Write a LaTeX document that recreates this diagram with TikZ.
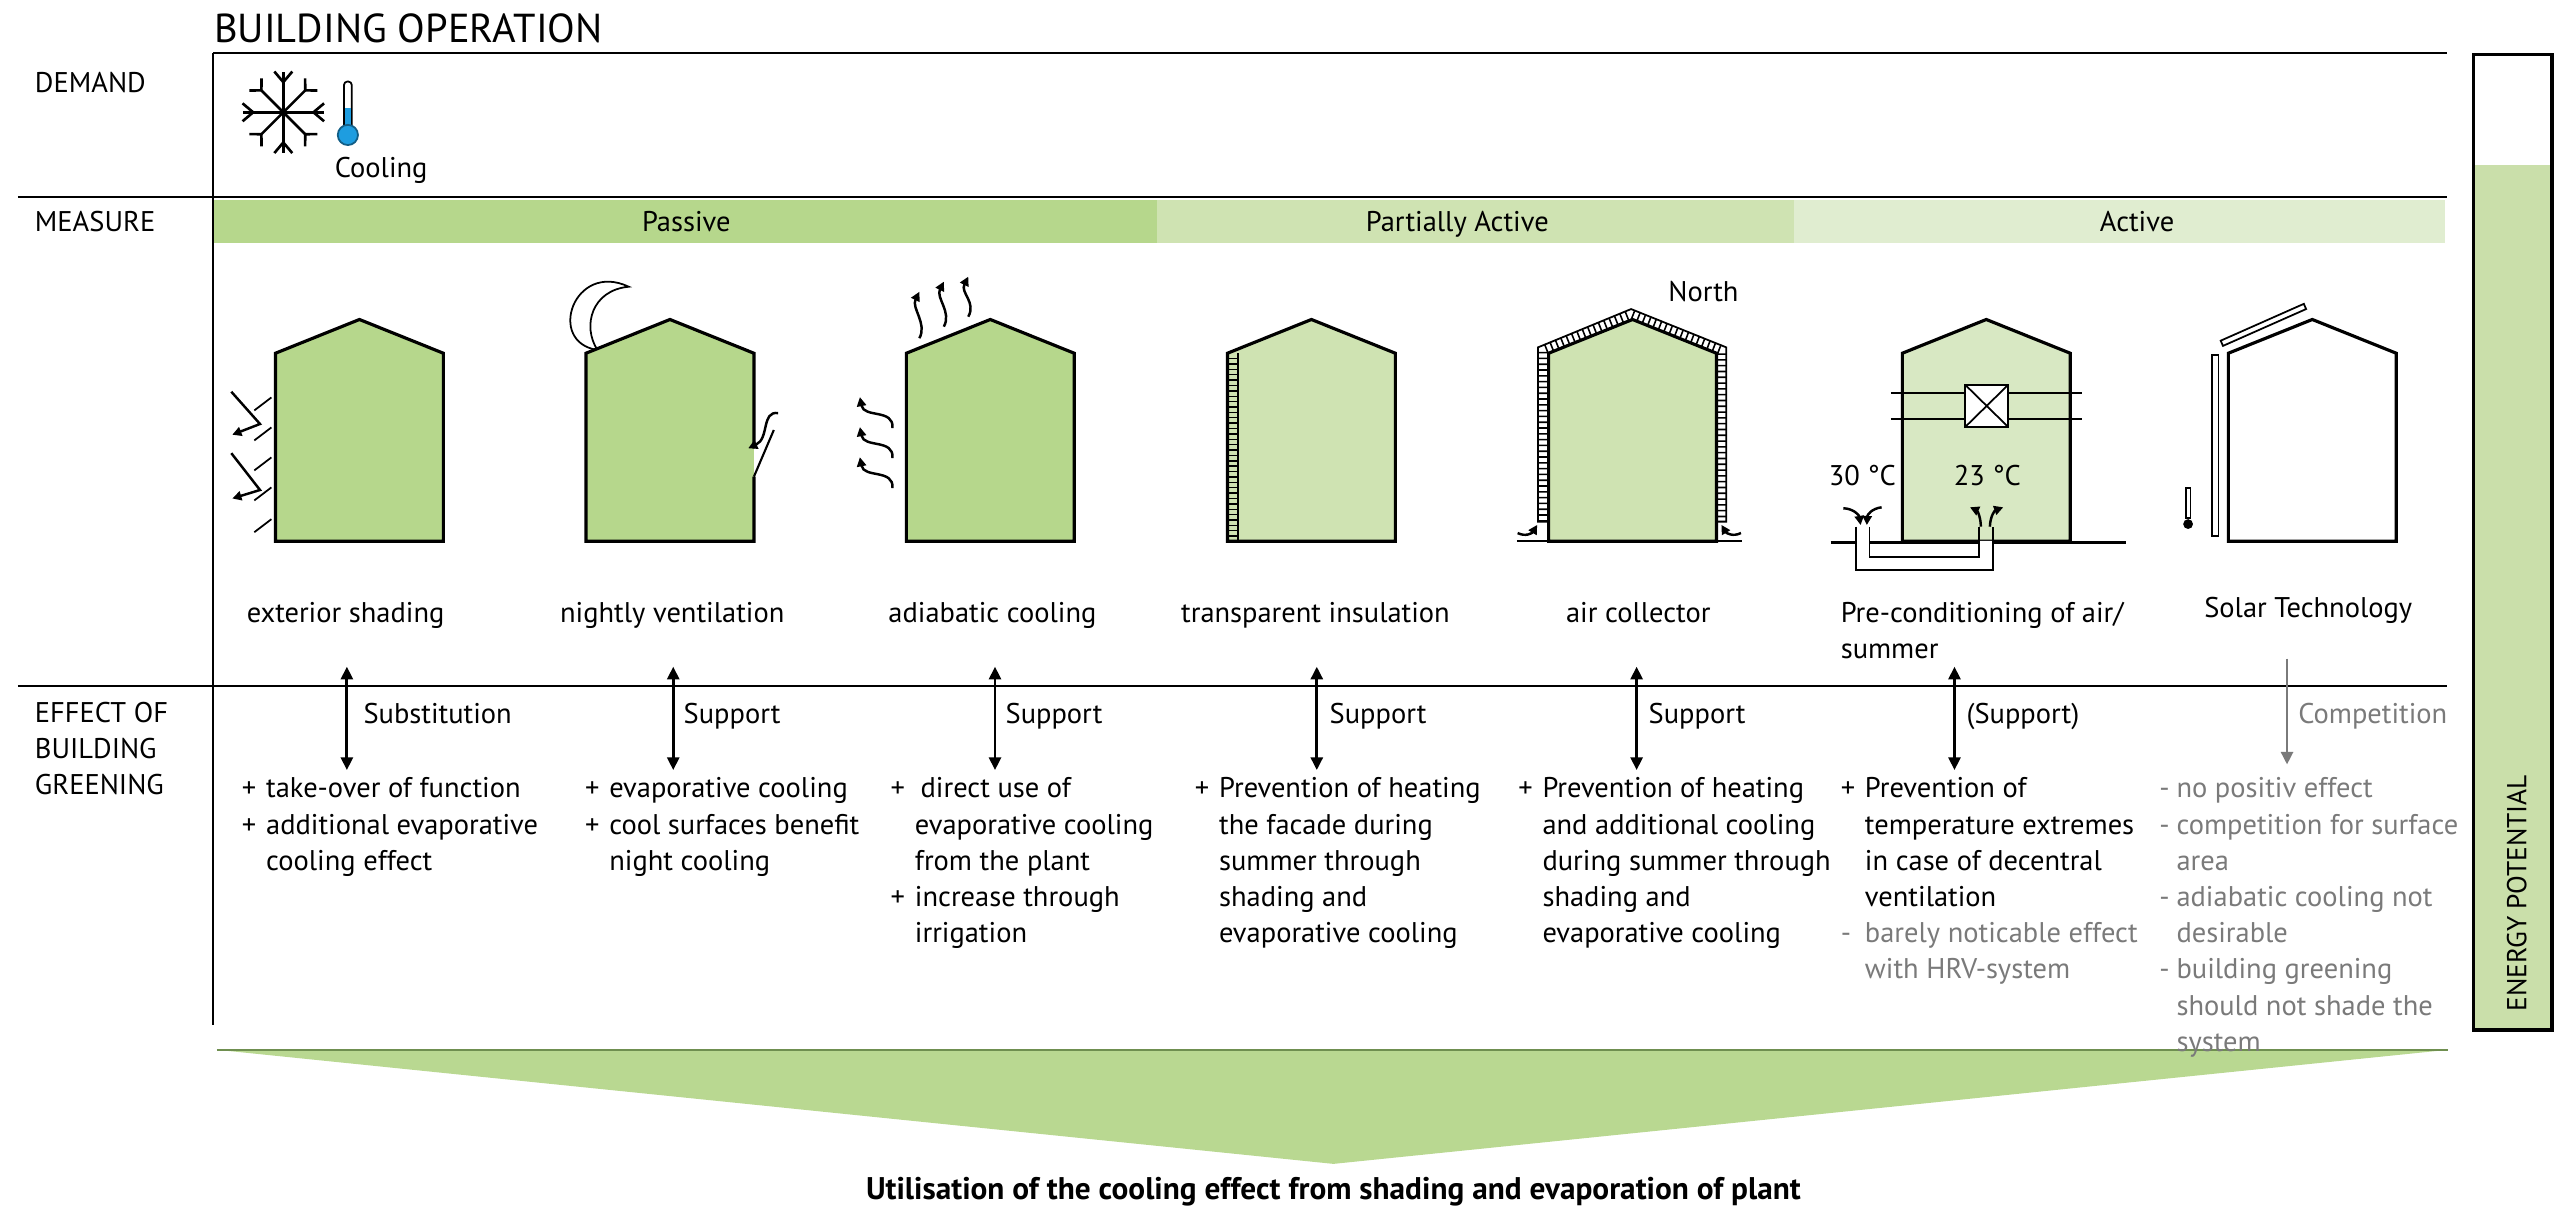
\documentclass[tikz,border=0pt]{standalone}
\usepackage{fontspec}
\setmainfont{PT Sans}
\usetikzlibrary{arrows.meta}
\usetikzlibrary{positioning}

\definecolor{passivegreen}{HTML}{B6D78C}
\definecolor{partgreen}{HTML}{CFE3B2}
\definecolor{condgreen}{HTML}{D8E8C3}
\definecolor{activegreen}{HTML}{E0EDD0}
\definecolor{potgreen}{HTML}{CADFAA}
\definecolor{trigreen}{HTML}{B9D891}
\definecolor{edgegreen}{HTML}{6F8F50}
\definecolor{compgrey}{HTML}{7A7A7A}
\definecolor{thermoblue}{HTML}{1E9DE0}

% list markers with hanging indent
\newcommand{\pl}{\makebox[0.85em][l]{+}}
\newcommand{\mi}{\makebox[0.6em][l]{-}}
\newcommand{\ind}{\hspace*{0.85em}}
\newcommand{\gind}{\hspace*{0.6em}}
% left aligned lines, baseline on the first one
\newcommand{\stack}[1]{\vtop{\halign{##\hfil\cr#1\crcr}}}

% house outline: left x, fill colour
\newcommand{\house}[2]{%
  \filldraw[house, fill=#2] (#1,332) -- (#1,216.7) -- (#1+51.5,196) -- (#1+103,216.7) -- (#1+103,332) -- cycle;}

\begin{document}
\begin{tikzpicture}[x=0.016301cm, y=-0.016301cm,
      txt/.style={inner sep=0, font=\fontsize{8.1}{10.3}\selectfont},
      head/.style={txt, anchor=base west},
      mlabel/.style={txt, anchor=base},
      rule/.style={line width=0.7pt},
      house/.style={line width=0.9pt, line join=miter},
      icon/.style={line width=0.6pt},
      link/.style={{Triangle[width=3.4pt,length=3.6pt]}-{Triangle[width=3.4pt,length=3.6pt]}, line width=0.8pt},
      compete/.style={-{Triangle[width=3.4pt,length=3.6pt]}, line width=0.8pt, compgrey},
      wave/.style={-{Triangle[width=2.6pt,length=2.6pt]}, line width=0.7pt}
      ]
      \useasboundingbox (0,0) rectangle (1568,740);

      % Frame
      \node[txt, anchor=base west, font=\fontsize{11.5}{13}\selectfont] (title) at (131,26) {BUILDING OPERATION};
      \draw[rule] (130.8,32.5) -- (1501,32.5);
      \draw[rule] (11,121) -- (1501,121);
      \draw[rule] (11,421) -- (1501,421);
      \draw[rule] (130.8,32.5) -- (130.8,629);

      \node[head] (demand) at (21,57) {DEMAND};
      \node[head] (measure) at (21,142) {MEASURE};
      \node[head] (effectof) at (21,443) {\stack{EFFECT OF\cr BUILDING\cr GREENING}};

      % Demand: snowflake and thermometer
      \begin{scope}[shift={(173.8,68.9)}, line width=0.75pt]
        \foreach \a in {0,90,180,270} {
          \draw (0,0) -- (\a:25);
          \draw (\a+12.4:25.6) -- (\a:18.5) -- (\a-12.4:25.6);
        }
        \foreach \a in {45,135,225,315} {
          \draw (0,0) -- (\a:19);
          \draw (\a+12.3:24.8) -- (\a:19) -- (\a-12.3:24.8);
        }
      \end{scope}
      \draw[line width=0.5pt, fill=white, rounded corners=1pt] (211,50) rectangle (215.8,79);
      \fill[thermoblue] (211.4,66.5) rectangle (215.4,79);
      \filldraw[draw=thermoblue!60!black, line width=0.5pt, fill=thermoblue] (213.4,82.8) circle (6.2);
      \node[head] (cooling) at (205,109) {Cooling};

      % Measure band
      \fill[passivegreen] (131.5,122.7) rectangle (710,149.3);
      \fill[partgreen] (710,122.7) rectangle (1100.6,149.3);
      \fill[activegreen] (1100.6,122.7) rectangle (1500,149.3);
      \node[mlabel] (passive) at (421,142) {Passive};
      \node[mlabel] (partial) at (894,142) {Partially Active};
      \node[mlabel] (active) at (1311,142) {Active};

      % exterior shading
      \house{169}{passivegreen}
      \foreach \y in {247.8,266.2,284.6,303,322.5}
        \draw[line width=0.5pt] (156,\y+4) -- (166.5,\y-4);
      \draw[wave, line join=miter] (141.9,240.3) -- (159.5,260.1) -- (142.5,266.7);
      \draw[wave, line join=miter] (141.9,278) -- (159.5,300.6) -- (142.5,305.8);

      % nightly ventilation
      \filldraw[line width=0.5pt, fill=white] (385.7,175.9) .. controls (352,160) and (335,210) .. (366.5,214.7)
        .. controls (357,200) and (363,178) .. cycle;
      \fill[passivegreen] (359.5,332) -- (359.5,216.7) -- (411,196) -- (462.5,216.7) -- (462.5,332) -- cycle;
      \draw[house] (462.5,275) -- (462.5,216.7) -- (411,196) -- (359.5,216.7) -- (359.5,332) -- (462.5,332) -- (462.5,292.4);
      \draw[icon] (462.5,292.4) -- (474.7,263.8);
      \draw[wave] (477.3,253.4) .. controls (467,252) and (472,269) .. (459,275);

      % adiabatic cooling
      \house{556}{passivegreen}
      \foreach \x/\yb/\yt in {564/207.5/179, 579/200.4/172.8, 594/194.3/169.7}
        \draw[wave] (\x,\yb) .. controls (\x+5,\yb-9) and (\x-5,\yt+10) .. (\x,\yt);
      \foreach \y in {262.6,281,299.5}
        \draw[wave] (547.5,\y) .. controls (548.5,\y-12) and (530,\y-6) .. (527.5,\y-19);

      % transparent insulation
      \house{753}{partgreen}
      \draw[line width=0.5pt] (759.3,216.7) -- (759.3,332);
      \foreach \y in {220,223.3,...,330}
        \draw[line width=0.4pt] (753,\y) -- (759.3,\y);

      % air collector
      \draw[line width=3pt, white] (946.7,320) -- (946.7,214.9) -- (1000.6,193.4) -- (1055.8,214.9) -- (1055.8,320);
      \draw[line width=3pt, dash pattern=on 0.45pt off 1.2pt] (946.7,320) -- (946.7,214.9) -- (1000.6,193.4) -- (1055.8,214.9) -- (1055.8,320);
      \draw[line width=0.5pt] (950,320) -- (943.5,320) -- (943.5,213.1) -- (1000.6,189.6) -- (1059,213.1) -- (1059,320) -- (1053,320);
      \house{950}{partgreen}
      \draw[rule] (930.5,332) -- (1068.6,332);
      \draw[wave] (931,327) .. controls (936,329.5) and (940,327) .. (943,322);
      \draw[wave] (1068,327) .. controls (1063,329.5) and (1059,327) .. (1056,322);
      \node[mlabel] (north) at (1045,185) {North};

      % pre-conditioning of air
      \house{1167}{condgreen}
      \draw[line width=0.5pt] (1160,241) -- (1277,241) (1160,257) -- (1277,257);
      \filldraw[fill=white, line width=0.5pt] (1205.5,236) rectangle (1232,262);
      \draw[line width=0.5pt] (1205.5,236) -- (1232,262) (1205.5,262) -- (1232,236);
      \draw[rule] (1123,332.7) -- (1304,332.7);
      \fill[white] (1138.4,331.8) -- (1138.4,349.7) -- (1222.4,349.7) -- (1222.4,331.8) -- (1214.2,331.8)
        -- (1214.2,341.5) -- (1146.8,341.5) -- (1146.8,331.8) -- cycle;
      \draw[line width=0.5pt] (1138.4,323) -- (1138.4,349.7) -- (1222.4,349.7) -- (1222.4,323);
      \draw[line width=0.5pt] (1146.8,323) -- (1146.8,341.5) -- (1214.2,341.5) -- (1214.2,323);
      \draw[wave] (1130.8,311.8) .. controls (1137,312) and (1140.5,316) .. (1141.4,322.1);
      \draw[wave] (1154.3,311.2) .. controls (1148,312) and (1145.5,316) .. (1145.2,322.1);
      \draw[wave] (1215.2,323.1) .. controls (1215,316) and (1212.5,313) .. (1208.5,311.2);
      \draw[wave] (1220.7,323.1) .. controls (1221,316) and (1224,313) .. (1228.9,311.2);
      \node[mlabel] (hot) at (1142.5,298) {30 °C};
      \node[mlabel] (cool) at (1219.2,298) {23 °C};

      % solar technology
      \house{1367}{white}
      \draw[line width=0.5pt] (1362.3,209) -- (1413.3,186.4) -- (1414.7,189.6) -- (1363.7,212.2) -- cycle;
      \draw[line width=0.5pt] (1357,218) rectangle (1361,329);
      \draw[line width=0.5pt] (1340.8,299.5) rectangle (1343.8,318);
      \fill (1342.3,321.5) circle (3);

      % Measure labels
      \node[mlabel] (m1) at (212,382) {exterior shading};
      \node[mlabel] (m2) at (412.4,382) {nightly ventilation};
      \node[mlabel] (m3) at (608.8,382) {adiabatic cooling};
      \node[mlabel] (m4) at (807,382) {transparent insulation};
      \node[mlabel] (m5) at (1005,382) {air collector};
      \node[head] (m6) at (1128.8,382) {\stack{Pre-conditioning of air/\cr summer}};
      \node[mlabel] (m7) at (1416,379) {Solar Technology};

      % Energy potential bar
      \fill[potgreen] (1517.5,101) rectangle (1565.5,632);
      \draw[line width=1pt] (1517.5,33.5) rectangle (1565.5,632);
      \node[txt, rotate=90, font=\fontsize{7.8}{9}\selectfont] (potential) at (1544,548) {ENERGY POTENTIAL};

      % Result triangle
      \fill[trigreen] (133,644) -- (1502,644) -- (818,714) -- cycle;
      \draw[edgegreen, line width=0.6pt] (133,644) -- (1502,644);
      \node[mlabel, font=\bfseries\fontsize{8.9}{10}\selectfont] (result) at (818,736)
        {Utilisation of the cooling effect from shading and evaporation of plant};

      % Arrows
      \foreach \x [count=\i] in {212.8,413,610.4,807.8,1004,1199} {
        \coordinate (up\i) at (\x,409);
        \coordinate (dn\i) at (\x,472.4);
        \draw[link] (up\i) -- (dn\i);
      }
      \coordinate (up7) at (1403,404);
      \coordinate (dn7) at (1403,469);
      \draw[compete] (up7) -- (dn7);

      % Effect labels
      \node[head] (k1) at (222.6,444) {Substitution};
      \node[head] (k2) at (419,444) {Support};
      \node[head] (k3) at (616.5,444) {Support};
      \node[head] (k4) at (815.3,444) {Support};
      \node[head] (k5) at (1011,444) {Support};
      \node[head] (k6) at (1206,444) {(Support)};
      \node[head, text=compgrey] (k7) at (1409.5,444) {Competition};

      % Effects
      \node[head] (e1) at (148,489.5) {\stack{\pl take-over of function\cr \pl additional evaporative\cr \ind cooling effect}};
      \node[head] (e2) at (358.5,489.5) {\stack{\pl evaporative cooling\cr \pl cool surfaces benefit\cr \ind night cooling}};
      \node[head] (e3) at (546,489.5) {\stack{\makebox[1.05em][l]{+}direct use of\cr \ind evaporative cooling\cr
        \ind from the plant\cr \pl increase through\cr \ind irrigation}};
      \node[head] (e4) at (732.6,489.5) {\stack{\pl Prevention of heating\cr \ind the facade during\cr
        \ind summer through\cr \ind shading and\cr \ind evaporative cooling}};
      \node[head] (e5) at (931,489.5) {\stack{\pl Prevention of heating\cr \ind and additional cooling\cr
        \ind during summer through\cr \ind shading and\cr \ind evaporative cooling}};
      \node[head] (e6) at (1128.8,489.5) {\stack{\pl Prevention of\cr \ind temperature extremes\cr
        \ind in case of decentral\cr \ind ventilation\cr
        \textcolor{compgrey}{\makebox[0.85em][l]{-}barely noticable effect}\cr \textcolor{compgrey}{\ind with HRV-system}}};
      \node[head, text=compgrey] (e7) at (1324.3,489.5) {\stack{\mi no positiv effect\cr \mi competition for surface\cr
        \gind area\cr \mi adiabatic cooling not\cr \gind desirable\cr \mi building greening\cr
        \gind should not shade the\cr \gind system}};

    \end{tikzpicture}
\end{document}
